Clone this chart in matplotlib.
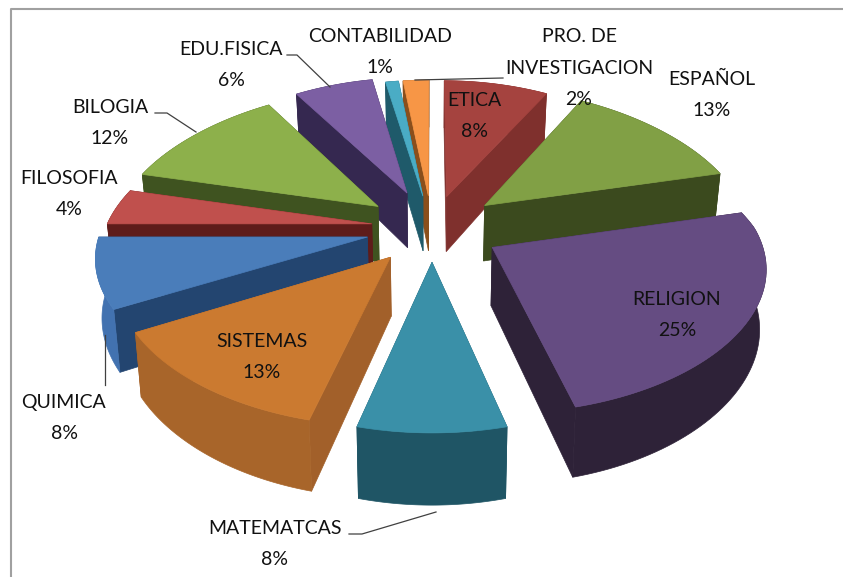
import numpy as np
import matplotlib
matplotlib.use('Agg')
import matplotlib.pyplot as plt
from matplotlib.patches import Polygon

plt.rcParams['font.family'] = ['Lato', 'DejaVu Sans']

# slices, clockwise from 12 o'clock
names = ['ETICA', 'ESPAÑOL', 'RELIGION', 'MATEMATCAS', 'SISTEMAS', 'QUIMICA',
         'FILOSOFIA', 'BILOGIA', 'EDU.FISICA', 'CONTABILIDAD', 'PRO. DE\nINVESTIGACION']
values = [8, 13, 25, 8, 13, 8, 4, 12, 6, 1, 2]
top_colors = ['#A5433F', '#81A045', '#654C82', '#3A90A8', '#CB7A30', '#4A7DBA',
              '#C0504D', '#8DB04B', '#7C5FA3', '#4AACC5', '#F79646']
wall_colors = ['#7F302D', '#3B4A1E', '#2E2238', '#1F5565', '#A2602A', '#234570',
               '#5E1C1A', '#3F5320', '#352850', '#1F5A6A', '#8A4F1C']
rim_colors = ['#7F302D', '#3B4A1E', '#2E2238', '#1F5565', '#A8652A', '#4272B0',
              '#5E1C1A', '#3F5320', '#352850', '#1F5A6A', '#8A4F1C']
explode = [0.24, 0.27, 0.27, 0.24, 0.26, 0.26, 0.24, 0.27, 0.28, 0.24, 0.24]

# label centres in pixels
label_x = [474, 712, 677, 275, 262, 64, 69, 110, 231, 380, 579]
label_y = [116, 95, 315, 544, 357, 418, 194, 123, 65, 52, 68]

# perspective of the pie
cx, cy = 432, 228
scale_x, scale_y = 254, 138.6
persp = 0.13
widen = 0.025
height = 57


def project(u, v, z=0):
    d = 1 + persp * v
    dx = (d + 0.06 * np.clip(v, 0, None)) * (1 + 0.02 * z)
    return cx + scale_x * u * (1 + widen * u ** 2) / dx, cy - scale_y * v / d + height * z / (1 + 0.17 * v)


fig = plt.figure(figsize=(8.43, 5.77), dpi=100)
ax = fig.add_axes([0, 0, 1, 1])
ax.set_xlim(0, 843)
ax.set_ylim(577, 0)
ax.axis('off')

# frame, only top and left are in the crop
ax.plot([11, 11, 843], [577, 9, 9], color='#A0A0A0', lw=1.5)

total = sum(values)
fracs = np.cumsum([0] + values) / total * 2 * np.pi
mids = (fracs[:-1] + fracs[1:]) / 2
order = list(np.argsort(-np.cos(mids)))   # back slices first

for i in order:
    t = np.linspace(fracs[i], fracs[i + 1], 60)
    ou = explode[i] * np.sin(mids[i])
    ov = explode[i] * np.cos(mids[i])
    u = np.concatenate([[ou], ou + np.sin(t)])
    v = np.concatenate([[ov], ov + np.cos(t)])
    z = 2 + 0.01 * order.index(i)

    xt, yt = project(u, v, 0)
    xb, yb = project(u, v, 1)
    # the two cut walls, then the rim, top face goes on last
    wall1 = [(xt[0], yt[0]), (xt[1], yt[1]), (xb[1], yb[1]), (xb[0], yb[0])]
    wall2 = [(xt[0], yt[0]), (xt[-1], yt[-1]), (xb[-1], yb[-1]), (xb[0], yb[0])]
    rim = np.column_stack([np.r_[xt[1:], xb[:0:-1]], np.r_[yt[1:], yb[:0:-1]]])
    for pts in (wall1, wall2):
        ax.add_patch(Polygon(pts, fc=wall_colors[i], ec=wall_colors[i], lw=0.5, zorder=z))
    ax.add_patch(Polygon(rim, fc=rim_colors[i], ec=rim_colors[i], lw=0.5, zorder=z + 0.0005))
    ax.add_patch(Polygon(np.column_stack([xt, yt]), fc=top_colors[i], ec=top_colors[i], lw=0.5,
                         zorder=z + 0.001))

# leader lines
leaders = [([287, 297, 330], [55, 55, 87]),
           ([155, 167, 196], [113, 113, 132]),
           ([105, 105], [385, 335]),
           ([349, 362, 436], [534, 534, 512]),
           ([503, 415], [78, 80])]
for lx, ly in leaders:
    ax.plot(lx, ly, color='#404040', lw=0.9, zorder=3)

for i, name in enumerate(names):
    ax.text(label_x[i], label_y[i], f'{name}\n{values[i]}%', ha='center', va='center',
            fontsize=14, color='#111111', linespacing=2.05, zorder=5)

fig.savefig('out.png', dpi=100)
